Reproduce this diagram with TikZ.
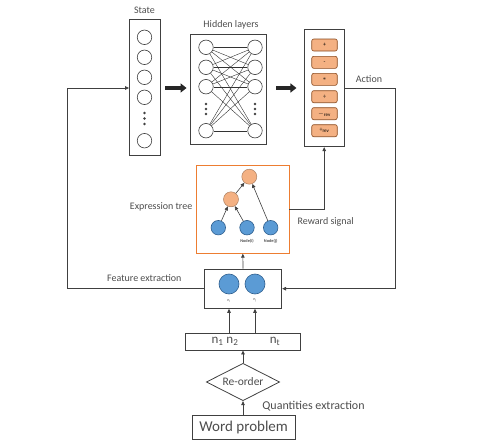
\documentclass[tikz,border=0pt]{standalone}
\usepackage{fontspec}
\setmainfont{Carlito}
\usetikzlibrary{arrows.meta,shapes.geometric}
\definecolor{ln}{HTML}{404040}
\definecolor{tx}{HTML}{4D4D4D}
\definecolor{orf}{HTML}{F4B183}
\definecolor{ord}{HTML}{8A4A1E}
\definecolor{orb}{HTML}{ED7D31}
\definecolor{blf}{HTML}{5B9BD5}
\definecolor{bld}{HTML}{2F5F8F}
\begin{document}
\begin{tikzpicture}[x=1pt,y=-1pt,
  box/.style={draw=ln, line width=0.8pt, inner sep=0pt, fill=white},
  nn/.style={circle, draw=ln, line width=0.6pt, minimum size=14.5pt, inner sep=0pt, fill=white},
  btn/.style={rounded corners=2pt, draw=ord, line width=0.6pt, fill=orf, minimum width=25.5pt, minimum height=12pt, inner sep=0pt, font=\fontsize{6}{7}\selectfont, text=black},
  otree/.style={circle, draw=ord!70, line width=0.5pt, fill=orf, minimum size=15pt, inner sep=0pt},
  btree/.style={circle, draw=bld, line width=0.6pt, fill=blf, minimum size=14.5pt, inner sep=0pt},
  lbl/.style={font=\fontsize{10}{12}\selectfont, text=tx, inner sep=1pt},
  tiny/.style={font=\bfseries\fontsize{4.3}{5}\selectfont, text=tx, inner sep=0pt},
  arr/.style={draw=ln, line width=0.7pt, -{Triangle[length=4pt,width=3.5pt]}},
  thickarr/.style={draw=black!85, line width=3.2pt, -{Triangle[length=6pt,width=9pt]}},
  edge/.style={draw=black!80, line width=0.4pt},
  dotc/.style={circle, fill=ln, inner sep=0pt, minimum size=2.6pt}
]
\useasboundingbox (0,0) rectangle (483,447);

% ---- State box
\node[box, minimum width=31pt, minimum height=136.5pt] (state) at (145,87.6) {};
\foreach \i/\y in {1/37.3,2/57.3,3/77.3,4/97.3,5/140.7}
  \node[nn] (s\i) at (144.5,\y) {};
\foreach \i/\y in {a/113,b/118.5,c/124}
  \node[dotc] (sd\i) at (144.5,\y) {};
\node[lbl] (statel) at (144.5,10) {State};

% ---- Hidden layers
\node[box, minimum width=76.7pt, minimum height=110pt] (hidden) at (228.3,89) {};
\foreach \i/\y in {1/47.3,2/67.3,3/86.7,4/130.7}{
  \node[nn] (l\i) at (206,\y) {};
  \node[nn] (r\i) at (255,\y) {};
}
\foreach \i in {1,...,4}
  \foreach \j in {1,...,4}
    \draw[edge] (l\i) -- (r\j);
\foreach \i/\y in {a/104,b/109,c/114}{
  \node[dotc] (hl\i) at (206,\y) {};
  \node[dotc] (hr\i) at (255,\y) {};
}
\node[lbl] (hiddenl) at (231,25) {Hidden layers};

% ---- Action
\node[box, minimum width=39.7pt, minimum height=117.4pt] (action) at (324.2,88) {};
\node[btn] (b1) at (324.5,45) {+};
\node[btn] (b2) at (324.5,62.3) {-};
\node[btn] (b3) at (324.5,79.3) {$\ast$};
\node[btn] (b4) at (324.5,96.7) {÷};
\node[btn] (b5) at (324.5,113.7) {$-_{\mathrm{rev}}$};
\node[btn] (b6) at (324.5,130.7) {÷\textsubscript{rev}};
\node[lbl] (actionl) at (369,79) {Action};

% ---- thick arrows
\draw[thickarr] ([xshift=4.5pt]state.east |- 0,88) -- ([xshift=-3pt]hidden.west |- 0,88);
\draw[thickarr] ([xshift=9pt]hidden.east |- 0,88) -- ([xshift=-7.5pt]action.west |- 0,88);

% ---- Expression tree
\node[draw=orb, line width=0.8pt, fill=white, minimum width=92.3pt, minimum height=87.6pt, inner sep=0pt] (tree) at (242.8,209.5) {};
\node[otree] (t1) at (249.3,176.7) {};
\node[otree] (t2) at (231,199.3) {};
\node[btree] (t3) at (218.3,227.7) {};
\node[btree] (t4) at (247,227.7) {};
\node[btree] (t5) at (270.7,227.7) {};
\node[tiny] (t4l) at (247,241.7) {Node(i)};
\node[tiny] (t5l) at (270.7,241.7) {Node(j)};
\draw[arr, line width=0.6pt] (t3) -- (t2);
\draw[arr, line width=0.6pt] (t4) -- (t2);
\draw[arr, line width=0.6pt] (t2) -- (t1);
\draw[arr, line width=0.6pt] (t5) -- (t1);
\node[lbl, anchor=east] (treel) at (193.5,206.5) {Expression tree};
\node[lbl] (rewardl) at (325.7,222.3) {Reward signal};

% ---- Feature box
\node[box, minimum width=77.4pt, minimum height=39.3pt] (feature) at (243,288.7) {};
\node[btree, minimum size=20pt] (f1) at (229,284) {};
\node[btree, minimum size=20pt] (f2) at (255,284) {};
\node[tiny, font=\fontsize{4}{5}\selectfont] (f1l) at (229,300.7) {n\textsubscript{i}};
\node[tiny, font=\fontsize{4}{5}\selectfont] (f2l) at (255,300.7) {n\textsubscript{j}};
\node[lbl] (featl) at (144.3,278.3) {Feature extraction};

% ---- n box
\node[box, minimum width=114.3pt, minimum height=16.7pt] (nbox) at (242.8,341.7) {};
\node[font=\fontsize{13}{15}\selectfont, text=tx, inner sep=0pt] (n12) at (225,341.5) {n\textsubscript{1} n\textsubscript{2}};
\node[font=\fontsize{13}{15}\selectfont, text=tx, inner sep=0pt] (nt) at (275,341.5) {n\textsubscript{t}};

% ---- Diamond
\node[diamond, draw=ln, line width=0.8pt, minimum width=73.3pt, minimum height=37.4pt, inner sep=0pt, aspect=2, font=\fontsize{11.5}{13}\selectfont, text=tx] (reorder) at (243,382) {Re-order};

% ---- Word problem
\node[box, minimum width=102.7pt, minimum height=24pt, font=\fontsize{15}{17}\selectfont, text=tx] (word) at (243.7,427) {Word problem};
\node[lbl, font=\fontsize{12}{14}\selectfont] (quantl) at (313.5,405.7) {Quantities extraction};

% ---- connectors
\coordinate (rc) at (395,88);
\coordinate (lc) at (67.7,288.7);
\draw[arr] (action.east |- rc) -- (rc) |- (feature.east);
\draw[arr] (feature.west) -- (lc) |- (state.west |- rc);
\draw[arr] (tree.east |- 0,209.3) -| (action.south);
\draw[arr] (feature.north) -- (tree.south);
\draw[arr] (nbox.north -| f1) -- (feature.south -| f1);
\draw[arr] (nbox.north -| f2) -- (feature.south -| f2);
\draw[arr] (reorder.north) -- (nbox.south -| reorder.north);
\draw[arr] (word.north -| reorder.south) -- (reorder.south);
\end{tikzpicture}
\end{document}
